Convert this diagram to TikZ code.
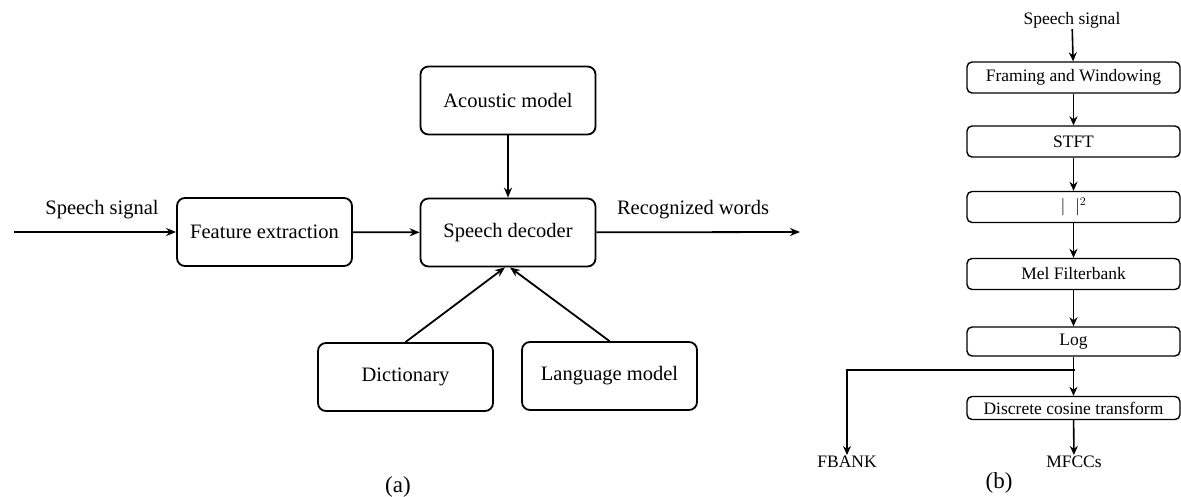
\documentclass[tikz,border=0pt]{standalone}
\usepackage{fontspec}
\setmainfont{Liberation Serif}
\usetikzlibrary{arrows.meta}

\begin{document}
\begin{tikzpicture}[x = 1pt, y = -1pt,
    blocka/.style = {draw, line width = 1.8pt, rounded corners = 8pt,
        minimum width = 175pt, minimum height = 68pt,
        font = \fontsize{20.5}{23}\selectfont},
    blockb/.style = {draw, line width = 1.4pt, rounded corners = 5pt,
        minimum width = 213pt, minimum height = 31pt, inner sep = 1pt,
        font = \fontsize{17.5}{20}\selectfont},
    labela/.style = {font = \fontsize{20.5}{23}\selectfont},
    labelb/.style = {font = \fontsize{17.5}{20}\selectfont, inner sep = 1pt},
    flow/.style = {line width = 1.8pt, -{Stealth[length = 10pt, width = 8pt]}},
    flowb/.style = {line width = 1.6pt, -{Stealth[length = 9pt, width = 8pt]}}
    ]
    \useasboundingbox (0, 0) rectangle (1181, 497);

    % (a) recognizer
    \node[blocka] (feat) at (264.5, 232) {Feature extraction};
    \node[blocka] (dec) at (508, 232.5) {Speech decoder};
    \node[blocka] (acou) at (508, 100.5) {Acoustic model};
    \node[blocka] (dict) at (405.5, 377) {Dictionary};
    \node[blocka] (lang) at (609.5, 376) {Language model};
    \node[labela] (insig) at (102, 210) {Speech signal};
    \node[labela] (words) at (693, 210) {Recognized words};
    \coordinate (in) at (14, 232);
    \coordinate (out) at (800, 232);
    \draw[flow] (in) -- (feat);
    \draw[flow] (feat) -- (dec);
    \draw[flow] (dec) -- (out);
    \draw[flow] (acou) -- (dec);
    \draw[flow] (dict.north) -- ([xshift = -3pt]dec.south);
    \draw[flow] (lang.north) -- ([xshift = 2pt]dec.south);
    \node[font = \fontsize{23}{26}\selectfont] (capa) at (398, 487) {(a)};

    % (b) features
    \node[labelb] (sig) at (1072, 20) {Speech signal};
    \node[blockb] (frame) at (1073.5, 77.5) {Framing and Windowing};
    \node[blockb] (stft) at (1073.5, 141.5) {STFT};
    \node[blockb] (sq) at (1073.5, 207) {$|\;\;|^2$};
    \node[blockb] (mel) at (1073.5, 274) {Mel Filterbank};
    \node[blockb, minimum height = 29pt] (log) at (1073.5, 341.5) {Log};
    \node[blockb, minimum height = 23pt] (dct) at (1073.5, 408) {Discrete cosine transform};
    \node[labelb] (fbank) at (847, 462) {FBANK};
    \node[labelb] (mfcc) at (1074, 462) {MFCCs};
    \coordinate (br) at (1075, 370);
    \draw[flowb] (sig) -- (frame);
    \draw[flowb] (frame) -- (stft);
    \draw[flowb] (stft) -- (sq);
    \draw[flowb] (sq) -- (mel);
    \draw[flowb] (mel) -- (log);
    \draw[flowb] (log) -- (dct);
    \draw[flowb] (br) -| (fbank.north);
    \draw[flowb] (dct) -- (mfcc);
    \node[font = \fontsize{23}{26}\selectfont] (capb) at (999, 483) {(b)};
\end{tikzpicture}
\end{document}
